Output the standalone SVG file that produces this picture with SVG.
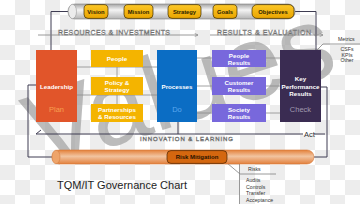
<svg xmlns="http://www.w3.org/2000/svg" width="360" height="204" viewBox="0 0 360 204">
<defs>
<pattern id="chk" width="30" height="30" patternUnits="userSpaceOnUse">
<rect width="30" height="30" fill="#ffffff"/>
<rect x="15" y="0" width="15" height="15" fill="#ededed"/>
<rect x="0" y="15" width="15" height="15" fill="#ededed"/>
</pattern>
<linearGradient id="cylG" x1="0" y1="0" x2="0" y2="1">
<stop offset="0" stop-color="#a4a4a4"/>
<stop offset="0.4" stop-color="#f4f4f4"/>
<stop offset="1" stop-color="#b4b4b4"/>
</linearGradient>
<linearGradient id="goldG" x1="0" y1="0" x2="0" y2="1">
<stop offset="0" stop-color="#fcc727"/>
<stop offset="1" stop-color="#e9a500"/>
</linearGradient>
<linearGradient id="oraG" x1="0" y1="0" x2="0" y2="1">
<stop offset="0" stop-color="#e4813a"/>
<stop offset="0.45" stop-color="#f1c4a0"/>
<stop offset="1" stop-color="#e3803c"/>
</linearGradient>
<marker id="arr" viewBox="0 0 6 6" refX="5.5" refY="3" markerWidth="5" markerHeight="5" orient="auto">
<path d="M0.5,0.5 L5.5,3 L0.5,5.5" fill="none" stroke="#808080" stroke-width="0.9"/>
</marker>
<style>
text { font-family: "Liberation Sans", Arial, sans-serif; }
.bt { font-size: 6.2px; font-weight: bold; fill: #ffffff; text-anchor: middle; }
.tl { font-size: 5.8px; font-weight: bold; fill: #2b1d00; text-anchor: middle; }
.sec { font-size: 7px; fill: #f6f6f6; stroke: #6e6e6e; stroke-width: 0.45; text-anchor: middle; }
.sm { font-size: 5.2px; fill: #333333; }
.conn { fill: none; stroke: #3e3c52; stroke-width: 1; }
.grid { fill: none; stroke: #8c8c8c; stroke-width: 0.8; }
.thin { fill: none; stroke: #808080; stroke-width: 0.8; }
.gold { fill: url(#goldG); stroke: #3a2800; stroke-width: 0.7; }
.goldbox { fill: #f4b400; }
.purp { fill: #7868dc; }
</style>
</defs>

<rect width="360" height="204" fill="url(#chk)"/>

<text x="0" y="0" transform="translate(40,170) rotate(-18)" font-size="106" fill="#a6a6a6" opacity="0.75">Values</text>

<g id="connectors">
<path class="conn" d="M68,11.5 H51 V50"/>
<path class="conn" d="M294,11.5 H316 V50"/>
<path class="conn" d="M321,87 H327 V157 H314"/>
<path class="conn" d="M36,85 H28 V157 H52"/>
<path class="thin" d="M38,35 H198" marker-end="url(#arr)"/>
<path class="thin" d="M210,35 H323" marker-end="url(#arr)"/>
<path class="thin" d="M317,50 L323,44 H360"/>
<path class="conn" d="M36,134 H303 M314,134 H325" stroke-width="0.8"/>
<path class="conn" d="M36,134 L41,130" stroke-width="0.8"/>
<path class="conn" d="M178,122 V134" stroke-width="0.8"/>
<path class="grid" d="M77,67 H157 M77,95 H157 M117,67 V104"/>
<path class="grid" d="M197,58 H280 M197,86 H280 M197,113 H280"/>
<path class="thin" d="M227,163 L240,174 H276 M239.5,163 V204" stroke="#707070"/>
</g>

<g id="top-bar">
<rect x="68" y="4" width="227" height="15" rx="7" fill="url(#cylG)" stroke="#808080" stroke-width="0.6"/>
<ellipse cx="72.5" cy="11.5" rx="4" ry="7.2" fill="#ececec" stroke="#8a8a8a" stroke-width="0.5"/>
<g id="vision"><rect class="gold" x="84" y="4.6" width="24" height="13.8" rx="4"/><text class="tl" x="96" y="13.6">Vision</text></g>
<g id="mission"><rect class="gold" x="124" y="4.6" width="29" height="13.8" rx="4"/><text class="tl" x="138.5" y="13.6">Mission</text></g>
<g id="strategy"><rect class="gold" x="168" y="4.6" width="33" height="13.8" rx="4"/><text class="tl" x="184.5" y="13.6">Strategy</text></g>
<g id="goals"><rect class="gold" x="213" y="4.6" width="24" height="13.8" rx="4"/><text class="tl" x="225" y="13.6">Goals</text></g>
<g id="objectives"><rect class="gold" x="252" y="4.6" width="42" height="13.8" rx="5"/><text class="tl" x="273" y="13.6">Objectives</text></g>
</g>

<g id="section-labels">
<text class="sec" x="114" y="34.5" textLength="112" lengthAdjust="spacing">RESOURCES &amp; INVESTMENTS</text>
<text class="sec" x="264" y="34.5" textLength="94" lengthAdjust="spacing">RESULTS &amp; EVALUATION</text>
<text class="sec" x="186.5" y="140.5" textLength="93" lengthAdjust="spacing" style="font-size:6px">INNOVATION &amp; LEARNING</text>
<text x="304" y="136.5" font-size="7.5" fill="#333">Act</text>
</g>

<g id="leadership">
<rect x="36" y="50" width="41" height="72" fill="#e1552a"/>
<text class="bt" x="56.5" y="88.5">Leadership</text>
<text x="56.5" y="111.5" font-size="7.5" fill="#f7a050" text-anchor="middle">Plan</text>
</g>
<g id="people"><rect class="goldbox" x="91" y="50" width="52" height="17"/><text class="bt" x="117" y="61">People</text></g>
<g id="policy-strategy"><rect class="goldbox" x="91" y="77" width="52" height="18"/><text class="bt" x="117" y="84.5">Policy &amp;</text><text class="bt" x="117" y="92">Strategy</text></g>
<g id="partnerships-resources"><rect class="goldbox" x="91" y="104" width="52" height="18"/><text class="bt" x="117" y="111.5">Partnerships</text><text class="bt" x="117" y="119">&amp; Resources</text></g>

<g id="processes">
<rect x="157" y="50" width="40" height="72" fill="#0b6dc4"/>
<text class="bt" x="177" y="88.5">Processes</text>
<text x="177" y="111.5" font-size="7.5" fill="#5aa7ee" text-anchor="middle">Do</text>
</g>

<g id="people-results"><rect class="purp" x="212" y="50" width="54" height="17"/><text class="bt" x="239" y="57.5">People</text><text class="bt" x="239" y="65">Results</text></g>
<g id="customer-results"><rect class="purp" x="212" y="77" width="54" height="18"/><text class="bt" x="239" y="84.5">Customer</text><text class="bt" x="239" y="92">Results</text></g>
<g id="society-results"><rect class="purp" x="212" y="104" width="54" height="18"/><text class="bt" x="239" y="111.5">Society</text><text class="bt" x="239" y="119">Results</text></g>

<g id="key-performance-results">
<rect x="280" y="50" width="41" height="72" fill="#3a2c52"/>
<text class="bt" x="300.5" y="81">Key</text>
<text class="bt" x="300.5" y="88.5">Performance</text>
<text class="bt" x="300.5" y="96">Results</text>
<text x="300.5" y="111.5" font-size="7.5" fill="#a09aae" text-anchor="middle">Check</text>
</g>

<g id="metrics">
<text class="sm" x="338" y="41">Metrics</text>
<text class="sm" x="347" y="51" text-anchor="middle">CSFs</text>
<text class="sm" x="347" y="56.5" text-anchor="middle">KPIs</text>
<text class="sm" x="347" y="62" text-anchor="middle">Other</text>
</g>

<g id="risk-mitigation">
<rect x="52" y="150" width="262" height="14" rx="7" fill="url(#oraG)" stroke="#d57a3a" stroke-width="0.6"/>
<ellipse cx="56" cy="157" rx="4" ry="6.8" fill="#eea46a" stroke="#cf7436" stroke-width="0.5"/>
<rect x="167" y="150.6" width="60" height="12.8" rx="4" fill="#d4670f" stroke="#4a2200" stroke-width="0.7"/>
<text x="197" y="159.3" font-size="6" font-weight="bold" fill="#2a1200" text-anchor="middle">Risk Mitigation</text>
</g>

<g id="risks">
<text class="sm" x="248" y="171">Risks</text>
<text class="sm" x="246" y="182">Audits</text>
<text class="sm" x="246" y="188.5">Controls</text>
<text class="sm" x="246" y="195">Transfer</text>
<text class="sm" x="246" y="201.5">Acceptance</text>
</g>

<g id="title">
<text x="57" y="188.5" font-size="11" fill="#1e1e1e" textLength="130" lengthAdjust="spacingAndGlyphs">TQM/IT Governance Chart</text>
</g>
</svg>
